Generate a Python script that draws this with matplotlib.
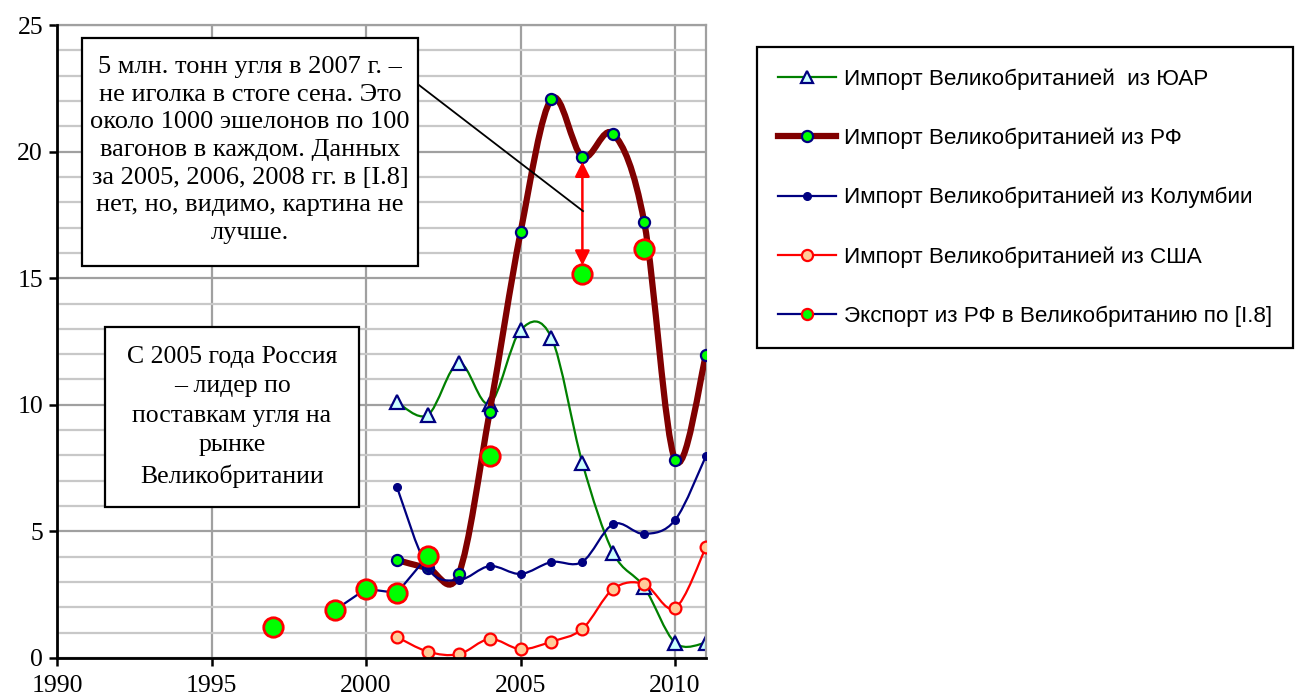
import numpy as np
import matplotlib
matplotlib.use('Agg')
import matplotlib.pyplot as plt
from matplotlib.path import Path
from matplotlib.patches import PathPatch, Rectangle
from matplotlib.lines import Line2D

# Годы и значения (млн. тонн)
years = [2001, 2002, 2003, 2004, 2005, 2006, 2007, 2008, 2009, 2010, 2011]
imp_saf = [10.1, 9.6, 11.65, 10.05, 12.95, 12.65, 7.7, 4.15, 2.8, 0.6, 0.6]
imp_rf = [3.87, 3.55, 3.32, 9.72, 16.82, 22.08, 19.79, 20.7, 17.22, 7.82, 11.97]
imp_col = [6.75, 3.55, 3.08, 3.63, 3.32, 3.79, 3.8, 5.29, 4.9, 5.45, 7.98]
imp_usa = [0.83, 0.25, 0.15, 0.75, 0.35, 0.65, 1.15, 2.73, 2.92, 1.97, 4.38]

exp_years = [1997, 1998, 1999, 2000, 2001, 2002, 2003, 2004, 2005, 2006, 2007, 2008, 2009]
exp_rf = [1.22, np.nan, 1.9, 2.73, 2.57, 4.03, np.nan, 7.98, np.nan, np.nan, 15.17, np.nan, 16.15]

labels = ['Импорт Великобританией  из ЮАР',
          'Импорт Великобританией из РФ',
          'Импорт Великобританией из Колумбии',
          'Импорт Великобританией из США',
          'Экспорт из РФ в Великобританию по [I.8]']

note1 = ('5 млн. тонн угля в 2007 г. –\nне иголка в стоге сена. Это\n'
         'около 1000 эшелонов по 100\nвагонов в каждом. Данных\n'
         'за 2005, 2006, 2008 гг. в [I.8]\nнет, но, видимо, картина не\nлучше.')
note2 = 'С 2005 года Россия\n– лидер по\nпоставкам угля на\nрынке\nВеликобритании'


def smooth_path(x, y):
    # сглаживание как в Excel (кривые Безье через точки)
    pts = np.column_stack([x, y]).astype(float)
    n = len(pts)
    verts = [pts[0]]
    codes = [Path.MOVETO]
    for i in range(n - 1):
        p0 = pts[max(i - 1, 0)]
        p1 = pts[i]
        p2 = pts[i + 1]
        p3 = pts[min(i + 2, n - 1)]
        verts += [p1 + (p2 - p0) / 6, p2 - (p3 - p1) / 6, p2]
        codes += [Path.CURVE4] * 3
    return Path(verts, codes)


W, H = 1297, 699
fig = plt.figure(figsize=(W / 100, H / 100), dpi=100)
ax = fig.add_axes([57 / W, 1 - 658 / H, 649 / W, 633 / H])

serif = 'Liberation Serif'
sans = 'Liberation Sans'

# сетка
ax.set_xlim(1990, 2011)
ax.set_ylim(0, 25)
ax.set_yticks(np.arange(0, 26, 5))
ax.set_yticks(np.arange(0, 26, 1), minor=True)
ax.set_xticks([1990, 1995, 2000, 2005, 2010])
ax.grid(True, which='major', axis='both', color='#a0a0a0', lw=1.6, zorder=0)
ax.grid(True, which='minor', axis='y', color='#c8c8c8', lw=1.6, zorder=0)
ax.tick_params(which='minor', left=False)
ax.tick_params(which='major', direction='out', length=6, width=1.8, pad=4,
               labelsize=18.5)
ax.tick_params(axis='x', pad=6)
for lab in ax.get_xticklabels() + ax.get_yticklabels():
    lab.set_fontfamily(serif)
for s in ['left', 'bottom']:
    ax.spines[s].set_linewidth(2.0)
    ax.spines[s].set_zorder(6)
for s in ['top', 'right']:
    ax.spines[s].set_color('#a0a0a0')
    ax.spines[s].set_linewidth(1.6)

# ЮАР
ax.add_patch(PathPatch(smooth_path(years, imp_saf), fc='none', ec='#008000', lw=1.6, zorder=2))
ax.plot(years, imp_saf, ls='none', marker='^', ms=10, mfc='#ccffff', mec='#000080', mew=1.6, zorder=2)
# РФ
ax.add_patch(PathPatch(smooth_path(years, imp_rf), fc='none', ec='#800000', lw=4.5, zorder=3))
ax.plot(years, imp_rf, ls='none', marker='o', ms=8, mfc='#00ff00', mec='#000080', mew=1.6, zorder=3)
# Колумбия
ax.add_patch(PathPatch(smooth_path(years, imp_col), fc='none', ec='#000080', lw=1.6, zorder=4))
ax.plot(years, imp_col, ls='none', marker='o', ms=5.5, mfc='#000080', mec='#000080', zorder=4)
# США
ax.add_patch(PathPatch(smooth_path(years, imp_usa), fc='none', ec='#ff0000', lw=1.6, zorder=4))
ax.plot(years, imp_usa, ls='none', marker='o', ms=8.5, mfc='#ffcc99', mec='#ff0000', mew=1.6, zorder=4)
# Экспорт из РФ
ax.plot(exp_years, exp_rf, color='#000080', lw=1.6, marker='o', ms=14, mfc='#00ff00',
        mec='#ff0000', mew=2, zorder=5)

# стрелка 2007
ax.annotate('', xy=(2007, 19.6), xytext=(2007, 15.5),
            arrowprops=dict(arrowstyle='<|-|>', color='#ff0000', lw=1.8,
                            mutation_scale=22, shrinkA=0, shrinkB=0), zorder=6)

# выноска
ax.plot([2001.71, 2007.02], [22.63, 17.65], color='black', lw=1.3, zorder=6)

# текстовые блоки
fig.patches.append(Rectangle((82 / W, 1 - 266 / H), 336 / W, 228 / H, transform=fig.transFigure,
                             fc='white', ec='black', lw=1.6, zorder=7))
fig.text(250 / W, 1 - 150 / H, note1, ha='center', va='center', fontsize=19,
         family=serif, linespacing=1.33, zorder=8)
fig.patches.append(Rectangle((105 / W, 1 - 507 / H), 254 / W, 180 / H, transform=fig.transFigure,
                             fc='white', ec='black', lw=1.6, zorder=7))
fig.text(232 / W, 1 - 417 / H, note2, ha='center', va='center', fontsize=18.5,
         family=serif, linespacing=1.44, zorder=8)

# легенда
handles = [
    Line2D([], [], color='#008000', lw=1.6, marker='^', ms=9, mfc='#ccffff', mec='#000080', mew=1.6),
    Line2D([], [], color='#800000', lw=4.5, marker='o', ms=8, mfc='#00ff00', mec='#000080', mew=1.6),
    Line2D([], [], color='#000080', lw=1.6, marker='o', ms=5.5, mfc='#000080', mec='#000080'),
    Line2D([], [], color='#ff0000', lw=1.6, marker='o', ms=8, mfc='#ffcc99', mec='#ff0000', mew=1.6),
    Line2D([], [], color='#000080', lw=1.6, marker='o', ms=8, mfc='#00ff00', mec='#ff0000', mew=1.6),
]
leg = fig.legend(handles, labels, loc='upper left', bbox_to_anchor=(757 / W, 1 - 47 / H),
                 frameon=True, fancybox=False, edgecolor='black', framealpha=1,
                 prop={'family': sans, 'size': 16.2}, handlelength=2.55,
                 labelspacing=1.68, borderpad=0.95, handletextpad=0.35, borderaxespad=0)
leg.get_frame().set_linewidth(1.6)

fig.savefig('out.png', dpi=100)
